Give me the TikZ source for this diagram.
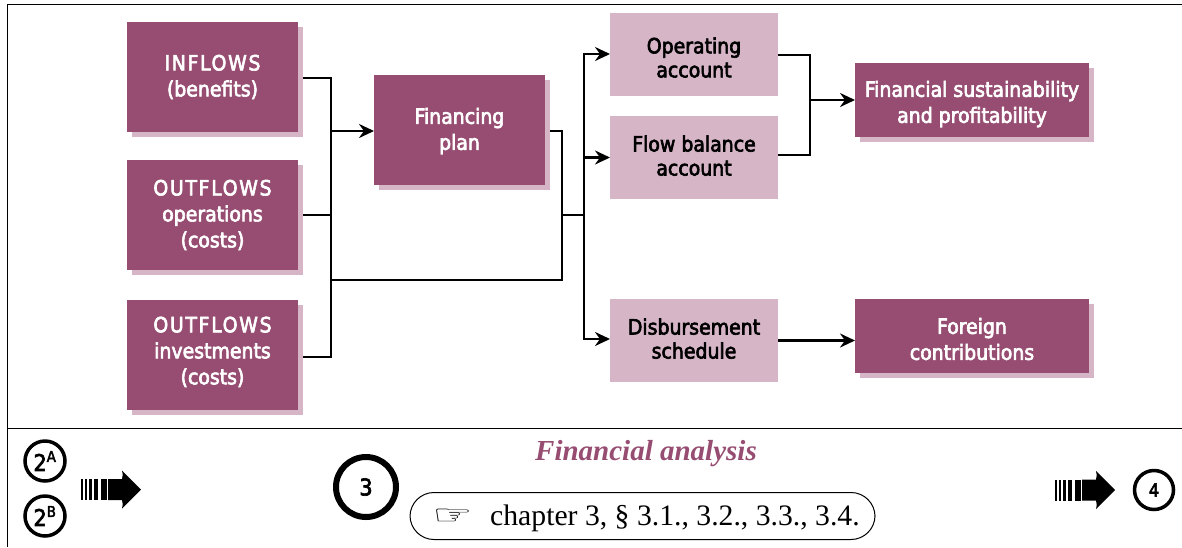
\documentclass[tikz,border=0pt]{standalone}
\usepackage{fontspec}
\usepackage{graphicx}
\setmainfont{Liberation Serif}
\newfontfamily\boxfont[FakeBold=3]{DejaVu Sans Condensed}
\newfontfamily\capsfont[FakeBold=3,LetterSpace=8]{DejaVu Sans Condensed}
\newfontfamily\numfont[FakeBold=3]{DejaVu Sans Condensed}
\newfontfamily\symbolfont{DejaVu Sans}
\usetikzlibrary{
  arrows.meta,
  shadows
}
\definecolor{plum}{HTML}{964D71}
\definecolor{paleplum}{HTML}{D5B5C6}
% Invisible rules that move a box text down or up a little.
\newcommand{\tallline}[1]{\rule{0pt}{#1pt}}
\newcommand{\deepline}[1]{\rule[-#1pt]{0pt}{#1pt}}
\tikzset{
  % For the plum boxes, with their offset shadow.
  dark box/.style={
    fill=plum,
    text=white,
    font=\boxfont\fontsize{21}{26}\selectfont,
    align=center,
    inner sep=0pt,
    outer sep=0pt,
    copy shadow={shadow xshift=5pt, shadow yshift=-5pt, fill=paleplum, draw=none}},
%
  % For the account boxes.
  light box/.style={
    fill=paleplum,
    text=black,
    font=\boxfont\fontsize{21}{24}\selectfont,
    align=center,
    minimum width=168pt,
    minimum height=83pt,
    inner sep=0pt,
    outer sep=0pt},
%
  % For connectors.
  line/.style={
    line width=2.5pt},
  arrow line/.style={
    line width=2.5pt,
    -{Stealth[length=15pt,width=14pt,inset=5pt]}},
%
  % For the frame round the picture.
  frame line/.style={
    line width=1pt},
%
  % For numbered steps.
  step circle/.style={
    draw,
    circle,
    line width=3.5pt,
    minimum size=40pt,
    inner sep=0pt,
    font=\numfont\fontsize{23}{24}\selectfont},
%
  % For the striped arrows.
  pics/striped arrow/.style={
    code={
      \foreach \xpos/\wid in {0/1.5, 4/2, 8/2.5, 13/4, 20/5.5}
        \fill (\xpos,-10.5) rectangle ++(\wid,21);
      \fill (27,-10.5) -- (41,-10.5) .. controls (42,-14) and (42,-16) .. (41,-19)
        -- (60,0) -- (41,19) .. controls (42,16) and (42,14) .. (41,10.5) -- (27,10.5) -- cycle;
    }},
}
\begin{document}
\begin{tikzpicture}[x=1pt,y=-1pt]
  \useasboundingbox (0,0) rectangle (1182,547);

  \node[dark box, minimum width=171pt, minimum height=110pt] (inflows) at (212.5,77)
    {{\capsfont INFLOWS}\\(benefits)};
  \node[dark box, minimum width=171pt, minimum height=110pt] (operations) at (212.5,215)
    {{\capsfont OUTFLOWS}\\operations\\(costs)};
  \node[dark box, minimum width=171pt, minimum height=110pt] (investments) at (212.5,355)
    {{\capsfont OUTFLOWS}\\investments\\(costs)\deepline{9}};
  \node[dark box, minimum width=171pt, minimum height=110pt] (plan) at (459.5,130)
    {\tallline{18}Financing\\plan};

  \node[light box] (operating) at (694,54.5) {\tallline{22}Operating\\account};
  \node[light box] (balance) at (694,157.5) {Flow balance\\account\deepline{4}};
  \node[light box] (schedule) at (694,340.5) {Disbursement\\schedule\deepline{4}};

  \node[dark box, minimum width=234pt, minimum height=74pt] (sustain) at (972,100)
    {\tallline{24}Financial sustainability\\and profitability};
  \node[dark box, minimum width=234pt, minimum height=74pt] (foreign) at (972,336)
    {\tallline{22}Foreign\\contributions};

  \coordinate (bus top) at (331,78);
  \coordinate (bus bottom) at (331,357);
  \coordinate (bus plan) at (331,131);
  \coordinate (bus return) at (331,280);
  \coordinate (plan out) at (562,131);
  \coordinate (join) at (562,215);
  \coordinate (fork) at (584,215);
  \coordinate (fork top) at (584,54);
  \coordinate (fork bottom) at (584,339);
  \coordinate (merge top) at (810,55);
  \coordinate (merge bottom) at (810,155);
  \coordinate (merge) at (810,100);

  % Left side, into the financing plan.
  \draw[line] ([xshift=5pt]inflows.east |- bus top) -- (bus top) -- (bus bottom)
    -- ([xshift=5pt]investments.east |- bus bottom);
  \draw[line] ([xshift=5pt]operations.east) -- (operations.east -| bus top);
  \draw[arrow line] (bus plan) -- (plan.west |- bus plan);

  % Middle, out to the accounts.
  \draw[line] ([xshift=5pt]plan.east |- plan out) -- (plan out) -- (plan out |- bus return) -- (bus return);
  \draw[line] (join) -- (fork);
  \draw[arrow line] (fork) -- (fork top) -- (operating.west |- fork top);
  \draw[arrow line] (fork) -- (fork bottom) -- (schedule.west |- fork bottom);
  \draw[arrow line] (fork |- balance) -- (balance.west);

  % Right side.
  \draw[line] (operating.east |- merge top) -- (merge top) -- (merge bottom) -- (balance.east |- merge bottom);
  \draw[arrow line] (merge) -- (sustain.west |- merge);
  \draw[arrow line] (schedule.east) -- (schedule.east -| foreign.west);

  % Frame and divider.
  \coordinate (corner) at (7,4);
  \coordinate (top right) at (1182,4);
  \coordinate (foot) at (7,547);
  \coordinate (divider left) at (7,428);
  \coordinate (divider right) at (1182,428);
  \draw[frame line] (top right) -- (corner) -- (foot);
  \draw[frame line] (divider left) -- (divider right);

  % Footer.
  \node[step circle] (stepa) at (45,461) {2\textsuperscript{\fontsize{15}{15}\selectfont A}};
  \node[step circle] (stepb) at (45,516) {2\textsuperscript{\fontsize{15}{15}\selectfont B}};
  \node[step circle, line width=6pt, minimum size=60pt] (stepthree) at (366,487) {3};
  \node[step circle, minimum size=39pt, font=\numfont\fontsize{18}{20}\selectfont] (stepfour) at (1154,490) {4};
  \pic at (81,489.5) {striped arrow};
  \pic at (1055,490) {striped arrow};

  \node[text=plum, font=\fontsize{29}{32}\selectfont\bfseries\itshape] (title) at (646,454)
    {Financial analysis};
  \node[draw, line width=1pt, rounded corners=24pt, minimum width=465pt, minimum height=47pt,
    inner sep=0pt] (reference) at (642.5,516) {};
  \node[font=\fontsize{29.7}{32}\selectfont, anchor=west, inner sep=0pt] (chapter) at (490,518)
    {chapter 3, \S\ 3.1., 3.2., 3.3., 3.4.};
  \node[font=\symbolfont\fontsize{30}{32}\selectfont, anchor=east, inner sep=0pt] (hand) at (473,517)
    {\scalebox{1.5}[0.9]{\symbol{"261E}}};
\end{tikzpicture}
\end{document}
